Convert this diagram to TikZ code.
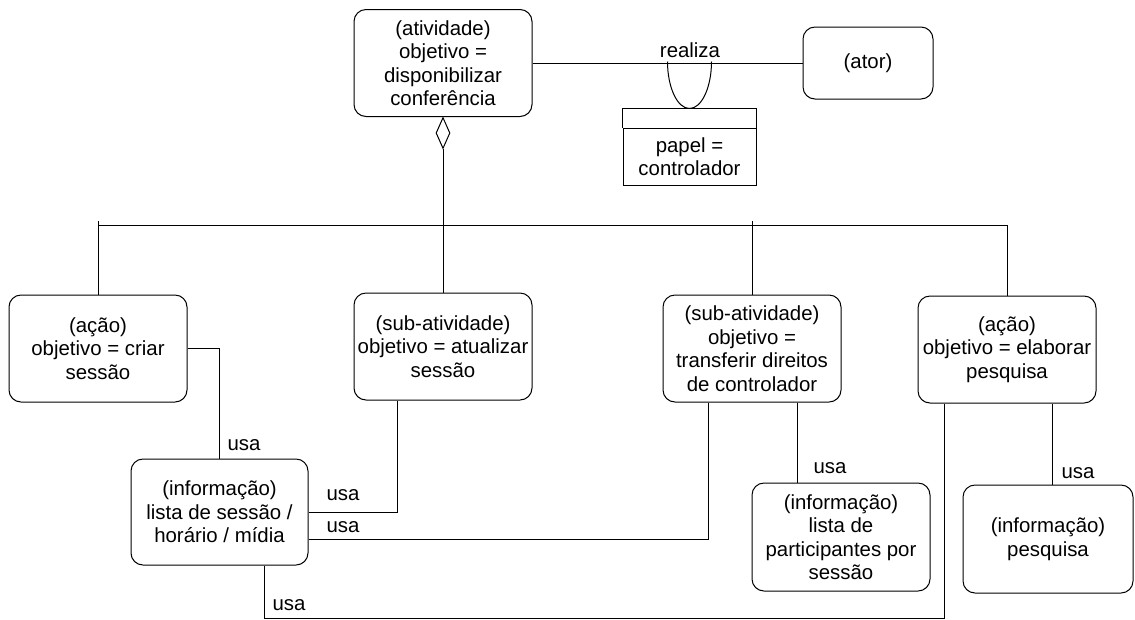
\documentclass[tikz,border=0pt]{standalone}
\usepackage{fontspec}
\setmainfont{Liberation Sans}
\usetikzlibrary{shapes.geometric}

\tikzset{every picture/.style={line width=0.75pt}}
\tikzset{
  caixa/.style={draw, rounded corners=9pt, align=center, inner sep=0.75pt,
    minimum width=133.5pt, minimum height=80.25pt, font=\fontsize{15.3}{17.6}\selectfont},
  classe/.style={draw, align=center, inner sep=0.75pt, minimum width=99.75pt,
    font=\fontsize{15.3}{17.6}\selectfont},
  losango/.style={draw, diamond, inner sep=0pt, minimum width=10.5pt, minimum height=23.25pt},
  rotulo/.style={inner sep=0.75pt, font=\fontsize{15.3}{17.6}\selectfont}
}

\begin{document}
\begin{tikzpicture}[x=0.75pt,y=0.75pt,yscale=-1,xscale=1]
\useasboundingbox (0,0) rectangle (1135,619);

% Rounded Rect
\node[caixa] (ativ) at (443,63) {(atividade)\\objetivo =\\disponibilizar\\conferência};
% Rounded Rect
\node[caixa, minimum width=97.5pt, minimum height=54pt] (ator) at (868,63) {(ator)};
% Shape: Rectangle
\node[classe, minimum height=42.75pt] (papel) at (689.5,156.5) {papel =\\controlador};
\node[classe, draw=none, minimum height=13.5pt, anchor=south] (papeltopo) at (papel.north) {};
\draw (papel.north west) |- (papeltopo.north) -| (papel.north east);
% Shape: Diamond
\node[losango, anchor=north] (losango) at (ativ.south) {};

% Rounded Rect
\node[caixa] (acao1) at (98,348.5) {(ação)\\objetivo = criar\\sessão};
\node[caixa] (sub1) at (443,346.5) {(sub-atividade)\\objetivo = atualizar\\sessão};
\node[caixa] (sub2) at (752,348.5) {(sub-atividade)\\objetivo =\\transferir direitos\\de controlador};
\node[caixa] (acao2) at (1007,349.5) {(ação)\\objetivo = elaborar\\pesquisa};

% Rounded Rect
\node[caixa, minimum width=132.75pt, minimum height=79.5pt] (info1) at (219.5,512) {(informação)\\lista de sessão /\\horário / mídia};
\node[caixa, minimum height=81pt] (info2) at (841,537) {(informação)\\lista de\\participantes por\\sessão};
\node[caixa, minimum width=127.5pt, minimum height=81pt] (info3) at (1048,539) {(informação)\\pesquisa};

% bend points
\coordinate (barra) at (0,225);
\coordinate (barratopo) at (0,221);
\coordinate (dsub1) at (397,0);
\coordinate (dsub2) at (708,539);
\coordinate (dinfo2) at (797,0);
\coordinate (dbaixoA) at (264,618);
\coordinate (dbaixoB) at (944,618);
\coordinate (dinfo3) at (1052,0);

% realiza
\draw (ativ.east) -- (ator.west);
\draw (papeltopo.north) arc (90:180:22 and 47);
\draw (papeltopo.north) arc (90:0:22 and 47);

% composicao
\draw (losango.south) -- (losango.south |- sub1.north);
\draw (acao1.north) -- (acao1.north |- barratopo);
\draw (acao1.north |- barra) -- (acao2.north |- barra) -- (acao2.north);
\draw (sub2.north) -- (sub2.north |- barratopo);

% usa
\draw (acao1.east) -| (info1.north);
\draw (dsub1 |- sub1.south) |- (info1.east);
\draw (dsub2 |- sub2.south) -- (dsub2) -- (dsub2 -| info1.east);
\draw (dinfo2 |- sub2.south) -- (dinfo2 |- info2.north);
\draw (dbaixoA |- info1.south) -- (dbaixoA) -- (dbaixoB) -- (dbaixoB |- acao2.south);
\draw (dinfo3 |- acao2.south) -- (dinfo3 |- info3.north);

% Text Node
\node[rotulo] (trealiza) at (690,50) {realiza};
\node[rotulo, anchor=west] (tusa1) at (226,445) {usa};
\node[rotulo, anchor=west] (tusa2) at (325,495) {usa};
\node[rotulo, anchor=west] (tusa3) at (325,527) {usa};
\node[rotulo, anchor=west] (tusa4) at (271,605) {usa};
\node[rotulo, anchor=west] (tusa5) at (812,468) {usa};
\node[rotulo, anchor=west] (tusa6) at (1060,473) {usa};

\end{tikzpicture}
\end{document}
